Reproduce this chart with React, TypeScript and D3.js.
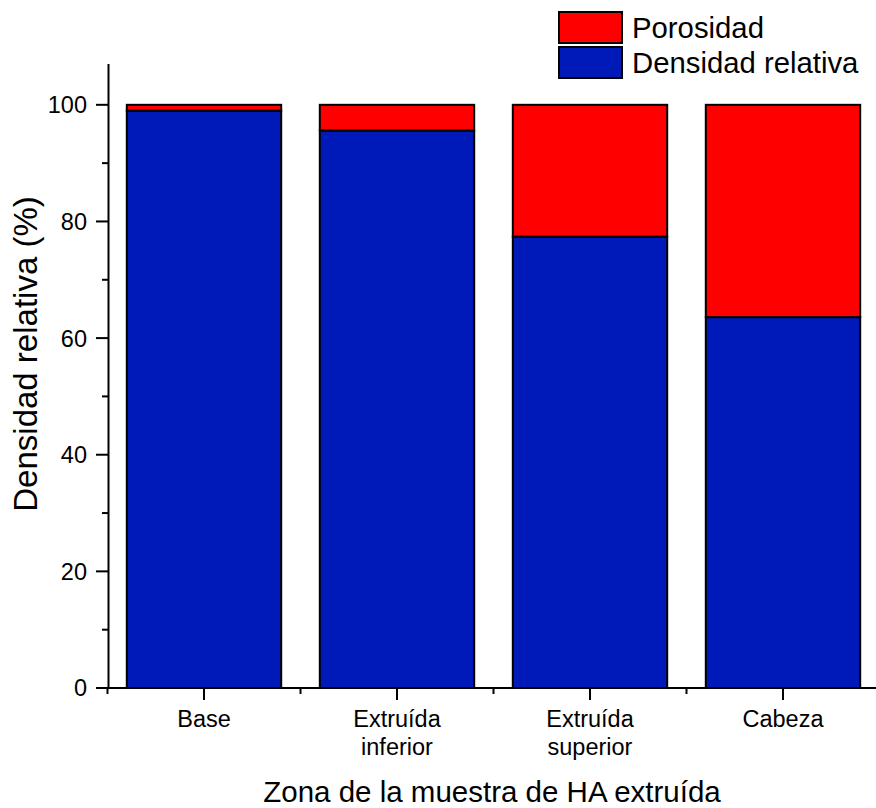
import React from "react";
import * as d3 from "d3";

const categories: string[][] = [["Base"], ["Extruída", "inferior"], ["Extruída", "superior"], ["Cabeza"]];
const densidad: number[] = [99.0, 95.6, 77.4, 63.6];
const porosidad: number[] = densidad.map((d) => 100 - d);
const yTicks: number[] = [0, 20, 40, 60, 80, 100];
const yMinor: number[] = [10, 30, 50, 70, 90];
const legendItems = [
  { label: "Porosidad", color: "#FF0000" },
  { label: "Densidad relativa", color: "#0019B9" },
];

const W = 876;
const H = 808;
const FONT = "Arial, 'Liberation Sans', sans-serif";

export default function App() {
  const keys = categories.map((c) => c.join(" "));
  const x = d3.scaleBand<string>().domain(keys).range([107.5, 879.5]).paddingInner(0).paddingOuter(0);
  const y = d3.scaleLinear().domain([0, 107]).range([688, 64]);
  const bw = x.bandwidth() * 0.8;
  const blue = legendItems[1].color;
  const red = legendItems[0].color;

  return (
    <svg width={W} height={H} style={{ position: "absolute", left: 0, top: 0, background: "#fff" }} fontFamily={FONT}>
      {/* bars */}
      {keys.map((k, i) => {
        const cx = x(k)! + x.bandwidth() / 2;
        const x0 = cx - bw / 2;
        const yD = y(densidad[i]);
        const yT = y(densidad[i] + porosidad[i]);
        return (
          <g key={k}>
            <rect x={x0} y={yD} width={bw} height={y(0) - yD} fill={blue} stroke="#000" strokeWidth={2} />
            <rect x={x0} y={yT} width={bw} height={yD - yT} fill={red} stroke="#000" strokeWidth={2} />
          </g>
        );
      })}
      {/* y axis */}
      <line x1={108.5} x2={108.5} y1={y(107)} y2={y(0) + 1} stroke="#000" strokeWidth={2} />
      {yTicks.map((t) => (
        <g key={t}>
          <line x1={96} x2={108.5} y1={y(t)} y2={y(t)} stroke="#000" strokeWidth={2} />
          <text x={87} y={y(t)} dy="0.36em" textAnchor="end" fontSize={23.5} fill="#000">
            {t}
          </text>
        </g>
      ))}
      {yMinor.map((t) => (
        <line key={t} x1={102} x2={108.5} y1={y(t)} y2={y(t)} stroke="#000" strokeWidth={2} />
      ))}
      {/* x axis */}
      <line x1={96} x2={880} y1={y(0)} y2={y(0)} stroke="#000" strokeWidth={2} />
      {keys.map((k, i) => {
        const cx = x(k)! + x.bandwidth() / 2;
        return (
          <g key={k}>
            <line x1={cx} x2={cx} y1={y(0)} y2={y(0) + 12} stroke="#000" strokeWidth={2} />
            <line x1={x(k)!} x2={x(k)!} y1={y(0)} y2={y(0) + 6} stroke="#000" strokeWidth={2} />
            <text x={cx} y={727} textAnchor="middle" fontSize={23.5} fill="#000">
              {categories[i].map((line, j) => (
                <tspan key={j} x={cx} dy={j === 0 ? 0 : 28}>
                  {line}
                </tspan>
              ))}
            </text>
          </g>
        );
      })}
      {/* axis titles */}
      <text x={492} y={802} textAnchor="middle" fontSize={29.5} fill="#000">
        Zona de la muestra de HA extruída
      </text>
      <text transform={`translate(37,354) rotate(-90)`} textAnchor="middle" fontSize={33} fill="#000">
        Densidad relativa (%)
      </text>
      {/* legend */}
      {legendItems.map((it, i) => (
        <g key={it.label}>
          <rect x={559} y={12 + i * 35} width={63} height={31} fill={it.color} stroke="#000" strokeWidth={2} />
          <text x={632} y={12 + i * 35 + 15.5} dy="0.36em" fontSize={29.3} fill="#000">
            {it.label}
          </text>
        </g>
      ))}
    </svg>
  );
}
